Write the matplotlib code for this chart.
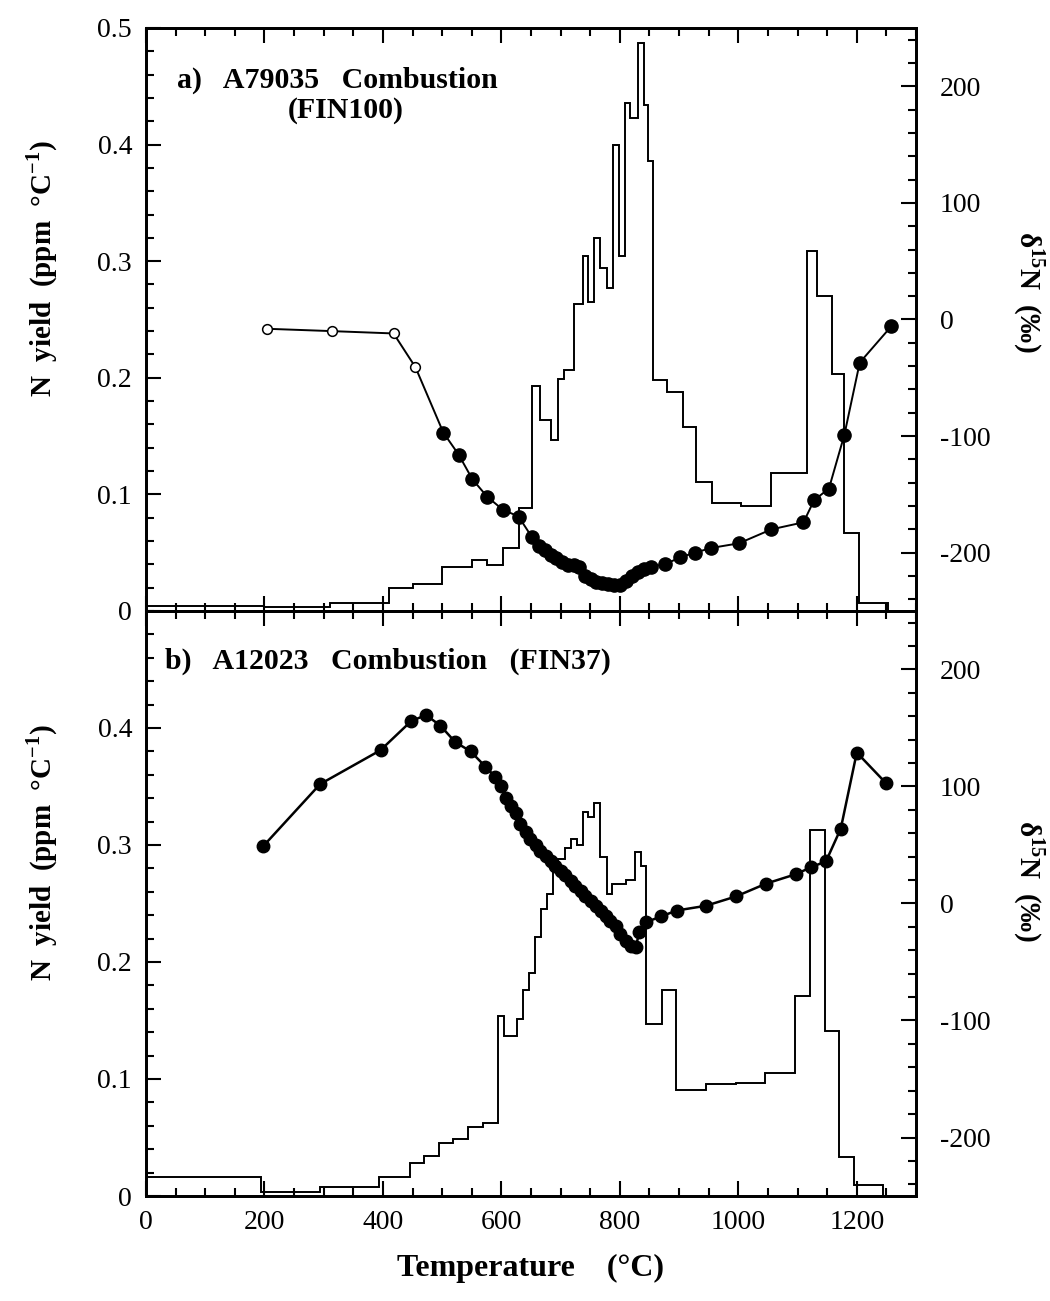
import matplotlib
matplotlib.use("Agg")
import matplotlib.pyplot as plt
from matplotlib.ticker import MultipleLocator, FixedLocator, FuncFormatter

plt.rcParams['font.family'] = ['Liberation Serif', 'DejaVu Serif']
plt.rcParams['mathtext.fontset'] = 'custom'
plt.rcParams['mathtext.rm'] = 'Liberation Serif'
plt.rcParams['mathtext.bf'] = 'Liberation Serif:bold'
plt.rcParams['axes.unicode_minus'] = False

# ---------------- a) A79035 combustion (FIN100) ----------------
# N yield step histogram: temperature bin edges (deg C) and yields (ppm/degC)
a_edges = [0, 200, 310, 410, 450, 500, 550, 576, 602, 630, 652, 665, 683, 695,
           705, 722, 737, 746, 757, 767, 778, 789, 798, 808, 817, 831, 841, 848,
           856, 879, 906, 928, 956, 1004, 1055, 1116, 1133, 1158, 1179, 1204, 1252]
a_yield = [0.004, 0.003, 0.007, 0.020, 0.023, 0.038, 0.044, 0.039, 0.054, 0.088,
           0.193, 0.164, 0.147, 0.199, 0.207, 0.263, 0.304, 0.265, 0.320, 0.294,
           0.277, 0.400, 0.304, 0.436, 0.423, 0.487, 0.434, 0.386, 0.198, 0.188,
           0.158, 0.111, 0.093, 0.090, 0.118, 0.309, 0.270, 0.203, 0.067, 0.007]

# delta15N (permil): open symbols for the low-temperature steps
a_open_T = [205, 314, 418, 455]
a_open_d = [-8, -10, -12, -41]
a_fill_T = [502, 528, 551, 576, 602, 629,
            652, 663, 673, 683, 693, 703, 713, 722, 731, 742, 751, 760, 770, 780,
            790, 800, 810, 820, 830, 840, 852,
            876, 902, 927, 954, 1001, 1056, 1110, 1128, 1153, 1179, 1205, 1258]
a_fill_d = [-97, -116, -137, -152, -163, -169,
            -187, -194, -198, -202, -205, -208, -211, -211, -212, -220, -223, -225,
            -226, -227, -228, -228, -224, -220, -217, -214, -212,
            -210, -204, -200, -196, -192, -180, -174, -155, -145, -99, -37, -6]

# ---------------- b) A12023 combustion (FIN37) ----------------
b_edges = [0, 195, 294, 394, 445, 470, 494, 519, 544, 569, 595, 605, 627, 637,
           646, 656, 667, 677, 687, 695, 707, 717, 727, 737, 746, 757, 766, 778,
           786, 810, 825, 835, 845, 871, 894, 945, 996, 1045, 1096, 1121, 1146,
           1170, 1195, 1244]
b_yield = [0.016, 0.003, 0.008, 0.016, 0.028, 0.034, 0.045, 0.049, 0.059, 0.062,
           0.154, 0.137, 0.151, 0.176, 0.191, 0.221, 0.245, 0.258, 0.281, 0.288,
           0.297, 0.305, 0.300, 0.328, 0.324, 0.336, 0.290, 0.258, 0.267, 0.270,
           0.294, 0.282, 0.147, 0.176, 0.091, 0.096, 0.097, 0.105, 0.171, 0.313,
           0.141, 0.033, 0.009]

b_T = [198, 294, 396, 448, 473, 497, 522, 548, 573,
       590, 600, 608, 616, 624, 632, 641, 649, 658, 666, 675, 683, 691, 700, 708,
       717, 725, 734, 742, 751, 759, 768, 776, 784, 793, 801, 810, 818, 827,
       833, 844, 870, 896, 945, 996, 1047, 1097, 1123, 1148, 1173, 1200, 1249]
b_d = [49, 102, 131, 156, 161, 152, 138, 130, 117,
       108, 100, 90, 83, 77, 68, 61, 55, 50, 45, 41, 36, 32, 28, 24,
       19, 15, 11, 6, 2, -2, -6, -11, -15, -19, -26, -32, -36, -37,
       -24, -16, -11, -6, -2, 6, 17, 25, 31, 36, 64, 129, 103]

x_ticks = [0, 200, 400, 600, 800, 1000, 1200]

TICK_FS = 20
LABEL_FS = 21
TITLE_FS = 21.5

fig = plt.figure(figsize=(10.5, 13.01), dpi=100)
ax_a = fig.add_axes([0.139, 0.5304, 0.7334, 0.4481])
ax_b = fig.add_axes([0.139, 0.0807, 0.7334, 0.4497], sharex=ax_a)

yfmt = FuncFormatter(lambda v, p: '0' if abs(v) < 1e-9 else f'{v:.1f}')
dfmt = FuncFormatter(lambda v, p: f'{v:.0f}')


def style_axes(ax, yticks):
    ax.set_xlim(0, 1300)
    ax.set_ylim(0, 0.5)
    ax.xaxis.set_major_locator(FixedLocator(x_ticks))
    ax.xaxis.set_minor_locator(MultipleLocator(50))
    ax.yaxis.set_major_locator(FixedLocator(yticks))
    ax.yaxis.set_minor_locator(MultipleLocator(0.02))
    ax.yaxis.set_major_formatter(yfmt)
    ax.tick_params(which='both', direction='in', top=True, bottom=True,
                   left=True, right=False, width=1.5, labelsize=TICK_FS)
    ax.tick_params(which='major', length=11, pad=10)
    ax.tick_params(which='minor', length=6)
    for s in ax.spines.values():
        s.set_linewidth(2.0)
    ax.set_ylabel('N  yield  (ppm  °C$^{\\mathbf{-1}}$)', fontsize=LABEL_FS,
                  fontweight='bold')
    ax.yaxis.set_label_coords(-0.112, 0.587)

    tw = ax.twinx()
    tw.set_ylim(-250, 250)
    tw.yaxis.set_major_locator(MultipleLocator(100))
    tw.yaxis.set_minor_locator(MultipleLocator(20))
    tw.yaxis.set_major_formatter(dfmt)
    tw.tick_params(which='both', direction='in', right=True, width=1.5,
                   labelsize=TICK_FS)
    tw.tick_params(which='major', length=11, pad=17)
    tw.tick_params(which='minor', length=6)
    for s in tw.spines.values():
        s.set_linewidth(2.0)
    tw.set_ylabel('δ$^{\\mathbf{15}}$N  (‰)', fontsize=LABEL_FS,
                  fontweight='bold', rotation=270, va='center')
    return tw


tw_a = style_axes(ax_a, [0, 0.1, 0.2, 0.3, 0.4, 0.5])
tw_b = style_axes(ax_b, [0, 0.1, 0.2, 0.3, 0.4])
tw_a.yaxis.set_label_coords(1.147, 0.547)
tw_b.yaxis.set_label_coords(1.147, 0.539)
ax_a.tick_params(labelbottom=False)

# panel a
ax_a.stairs(a_yield, a_edges, color='black', lw=1.4)
tw_a.plot(a_open_T + a_fill_T, a_open_d + a_fill_d, color='black', lw=1.4,
          zorder=3)
tw_a.plot(a_open_T, a_open_d, ls='none', marker='o', ms=7, mfc='white',
          mec='black', mew=1.1, zorder=4)
tw_a.plot(a_fill_T, a_fill_d, ls='none', marker='o', ms=9.5, mfc='black',
          mec='black', zorder=4)
ax_a.text(52, 0.449, 'a)   A79035   Combustion', fontsize=TITLE_FS,
          fontweight='bold', va='baseline', ha='left')
ax_a.text(338, 0.423, '(FIN100)', fontsize=TITLE_FS, fontweight='bold',
          va='baseline', ha='center')

# panel b
ax_b.stairs(b_yield, b_edges, color='black', lw=1.4)
tw_b.plot(b_T, b_d, color='black', lw=1.8, marker='o', ms=9, mfc='black',
          mec='black', zorder=4)
ax_b.text(32, 0.451, 'b)   A12023   Combustion   (FIN37)', fontsize=TITLE_FS,
          fontweight='bold', va='baseline', ha='left')

ax_b.set_xlabel('Temperature    (°C)', fontsize=23, fontweight='bold',
                labelpad=14)

fig.savefig('out.png', dpi=100, facecolor='white')
